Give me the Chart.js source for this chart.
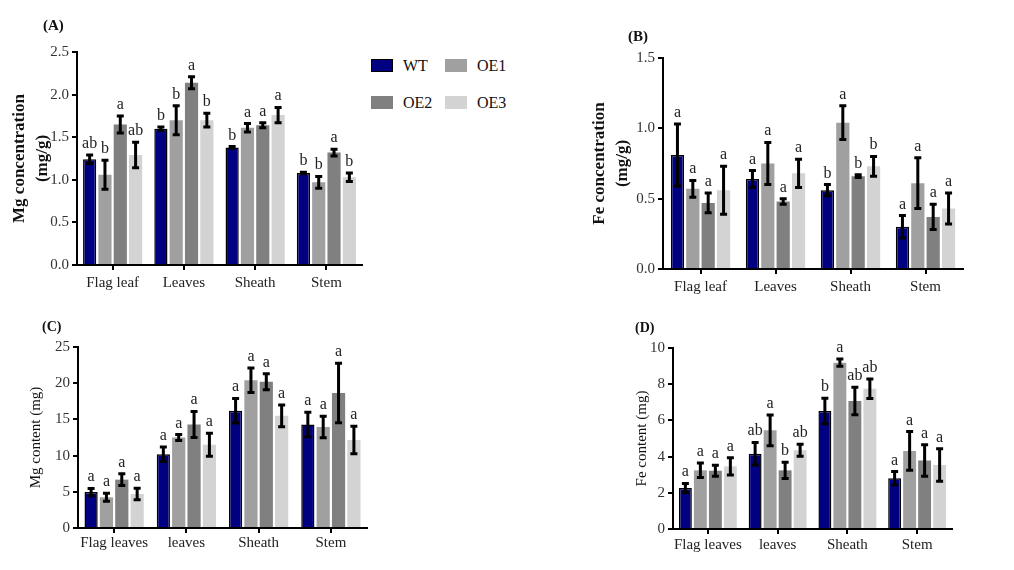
<!DOCTYPE html>
<html>
<head>
<meta charset="utf-8">
<script src="https://cdn.jsdelivr.net/npm/chart.js@4"></script>
<style>
  body { margin: 0; background: #fff; width: 1014px; height: 570px; position: relative; overflow: hidden; font-family: "Liberation Serif", serif; }
  .panel { position: absolute; }
  .tag { position: absolute; font-weight: bold; font-size: 15px; color: #111; }
  .leg { position: absolute; font-size: 16px; color: #111; line-height: 16px; }
  .box { position: absolute; width: 22px; height: 13px; }
</style>
</head>
<body>
<div class="panel" style="left:0;top:0"><canvas id="chartA" width="370" height="300"></canvas></div>
<div class="panel" style="left:580px;top:0"><canvas id="chartB" width="400" height="310"></canvas></div>
<div class="panel" style="left:0;top:300px"><canvas id="chartC" width="380" height="270"></canvas></div>
<div class="panel" style="left:580px;top:300px"><canvas id="chartD" width="400" height="270"></canvas></div>

<div class="tag" style="left:43px;top:17px">(A)</div>
<div class="tag" style="left:628px;top:28px">(B)</div>
<div class="tag" style="left:42px;top:319px;font-size:14px">(C)</div>
<div class="tag" style="left:635px;top:320px;font-size:14px">(D)</div>

<div class="box" style="left:371px;top:59px;background:#000080;border:1.5px solid #000;box-sizing:border-box"></div>
<div class="leg" style="left:403px;top:58px">WT</div>
<div class="box" style="left:445px;top:59px;background:#a0a0a0"></div>
<div class="leg" style="left:477px;top:58px">OE1</div>
<div class="box" style="left:371px;top:96px;background:#808080"></div>
<div class="leg" style="left:403px;top:95px">OE2</div>
<div class="box" style="left:445px;top:96px;background:#d3d3d3"></div>
<div class="leg" style="left:477px;top:95px">OE3</div>

<script>
// categories and series
const organsTop = ['Flag leaf', 'Leaves', 'Sheath', 'Stem'];
const organsBottom = ['Flag leaves', 'leaves', 'Sheath', 'Stem'];
const lines = ['WT', 'OE1', 'OE2', 'OE3'];
const lineColors = ['#000080', '#a0a0a0', '#808080', '#d3d3d3'];

// (A) Mg concentration, rows = WT, OE1, OE2, OE3
const mgConcMean = [
  [1.24, 1.60, 1.38, 1.08],
  [1.06, 1.70, 1.61, 0.97],
  [1.65, 2.14, 1.64, 1.32],
  [1.29, 1.70, 1.76, 1.03]
];
const mgConcErr = [
  [0.05, 0.02, 0.01, 0.01],
  [0.17, 0.17, 0.05, 0.07],
  [0.10, 0.07, 0.03, 0.04],
  [0.15, 0.08, 0.09, 0.05]
];
const mgConcLetters = [
  ['ab', 'b', 'b', 'b'],
  ['b', 'b', 'a', 'b'],
  ['a', 'a', 'a', 'a'],
  ['ab', 'b', 'a', 'b']
];

// (B) Fe concentration
const feConcMean = [
  [0.81, 0.64, 0.56, 0.30],
  [0.57, 0.75, 1.04, 0.61],
  [0.47, 0.48, 0.66, 0.37],
  [0.56, 0.68, 0.73, 0.43]
];
const feConcErr = [
  [0.22, 0.06, 0.04, 0.08],
  [0.06, 0.15, 0.12, 0.18],
  [0.07, 0.02, 0.01, 0.09],
  [0.17, 0.10, 0.07, 0.11]
];
const feConcLetters = [
  ['a', 'a', 'b', 'a'],
  ['a', 'a', 'a', 'a'],
  ['a', 'a', 'b', 'a'],
  ['a', 'a', 'b', 'a']
];

// (C) Mg content
const mgContMean = [
  [4.97, 10.2, 16.2, 14.3],
  [4.24, 12.5, 20.4, 13.95],
  [6.68, 14.3, 20.2, 18.65],
  [4.70, 11.5, 15.5, 12.15]
];
const mgContErr = [
  [0.5, 1.0, 1.7, 1.7],
  [0.55, 0.4, 1.7, 1.5],
  [0.8, 1.8, 1.1, 4.1],
  [0.8, 1.6, 1.5, 1.9]
];
const mgContLetters = [
  ['a', 'a', 'a', 'a'],
  ['a', 'a', 'a', 'a'],
  ['a', 'a', 'a', 'a'],
  ['a', 'a', 'a', 'a']
];

// (D) Fe content
const feContMean = [
  [2.27, 4.16, 6.52, 2.80],
  [3.24, 5.45, 9.19, 4.31],
  [3.22, 3.24, 7.07, 3.79],
  [3.46, 4.35, 7.75, 3.54]
];
const feContErr = [
  [0.25, 0.62, 0.70, 0.37],
  [0.40, 0.85, 0.20, 1.07],
  [0.30, 0.45, 0.76, 0.87],
  [0.48, 0.33, 0.54, 0.90]
];
const feContLetters = [
  ['a', 'ab', 'b', 'a'],
  ['a', 'a', 'a', 'a'],
  ['a', 'b', 'ab', 'a'],
  ['a', 'ab', 'ab', 'a']
];

const serif = '"Liberation Serif", "Times New Roman", serif';

// draws +/- error bars and the significance letters above them
const errorBars = {
  id: 'errorBars',
  afterDatasetsDraw(chart) {
    const ctx = chart.ctx;
    const yScale = chart.scales.y;
    chart.data.datasets.forEach((ds, i) => {
      chart.getDatasetMeta(i).data.forEach((bar, j) => {
        const v = ds.data[j], e = ds.errors[j];
        const top = yScale.getPixelForValue(v + e);
        const bot = yScale.getPixelForValue(v - e);
        ctx.save();
        ctx.strokeStyle = '#000';
        ctx.lineWidth = 3;
        ctx.beginPath();
        ctx.moveTo(bar.x, top); ctx.lineTo(bar.x, bot);
        ctx.moveTo(bar.x - 3.5, top); ctx.lineTo(bar.x + 3.5, top);
        ctx.moveTo(bar.x - 3.5, bot); ctx.lineTo(bar.x + 3.5, bot);
        ctx.stroke();
        ctx.fillStyle = '#222';
        ctx.font = '16px ' + serif;
        ctx.textAlign = 'center';
        ctx.textBaseline = 'alphabetic';
        ctx.fillText(ds.letters[j], bar.x, top - 7);
        ctx.restore();
      });
    });
  }
};

function makePanel(id, cats, means, errs, letters, cfg) {
  const datasets = lines.map((name, i) => ({
    label: name,
    data: means[i],
    errors: errs[i],
    letters: letters[i],
    backgroundColor: lineColors[i],
    borderColor: '#000',
    borderWidth: i === 0 ? 1.5 : 0,
    categoryPercentage: cfg.catPct,
    barPercentage: 0.86
  }));

  new Chart(document.getElementById(id), {
    type: 'bar',
    data: { labels: cats, datasets: datasets },
    plugins: [errorBars],
    options: {
      responsive: false,
      animation: false,
      layout: { padding: { left: 0, top: cfg.top, right: cfg.right, bottom: 0 } },
      plugins: { legend: { display: false }, tooltip: { enabled: false } },
      scales: {
        x: {
          grid: { display: true, drawOnChartArea: false, offset: false, tickLength: 5, color: '#000', lineWidth: 2 },
          border: { color: '#000', width: 2 },
          ticks: { color: '#222', font: { family: serif, size: 15 }, padding: cfg.xPad, maxRotation: 0, autoSkip: false },
          afterFit: s => { s.height = cfg.xH; }
        },
        y: {
          min: 0,
          max: cfg.max,
          grid: { display: true, drawOnChartArea: false, tickLength: 5, color: '#000', lineWidth: 2 },
          border: { color: '#000', width: 2 },
          ticks: {
            stepSize: cfg.step,
            color: '#333',
            font: { family: serif, size: 15 },
            padding: 3,
            callback: v => cfg.dec ? v.toFixed(cfg.dec) : v
          },
          title: {
            display: true,
            text: cfg.title,
            color: '#111',
            font: { family: serif, size: cfg.titleSize, weight: cfg.titleBold ? 'bold' : 'normal', lineHeight: 1.3 },
            padding: { top: cfg.titlePad, bottom: 0 }
          },
          afterFit: s => { s.width = cfg.yW; }
        }
      }
    }
  });
}

makePanel('chartA', organsTop, mgConcMean, mgConcErr, mgConcLetters, {
  max: 2.5, step: 0.5, dec: 1, title: ['Mg concentration', '(mg/g)'], titleSize: 17, titleBold: true, titlePad: 9,
  top: 52, right: 8, yW: 77, xH: 35, xPad: 4, catPct: 0.86
});
makePanel('chartB', organsTop, feConcMean, feConcErr, feConcLetters, {
  max: 1.5, step: 0.5, dec: 1, title: ['Fe concentration', '(mg/g)'], titleSize: 17, titleBold: true, titlePad: 9,
  top: 58, right: 17, yW: 83, xH: 41, xPad: 4, catPct: 0.82
});
makePanel('chartC', organsBottom, mgContMean, mgContErr, mgContLetters, {
  max: 25, step: 5, dec: 0, title: 'Mg content (mg)', titleSize: 15, titleBold: false, titlePad: 26,
  top: 47, right: 13, yW: 78, xH: 42, xPad: 1, catPct: 0.85
});
makePanel('chartD', organsBottom, feContMean, feContErr, feContLetters, {
  max: 10, step: 2, dec: 0, title: 'Fe content (mg)', titleSize: 15, titleBold: false, titlePad: 52,
  top: 48, right: 28, yW: 93, xH: 41, xPad: 2, catPct: 0.86
});
</script>
</body>
</html>
